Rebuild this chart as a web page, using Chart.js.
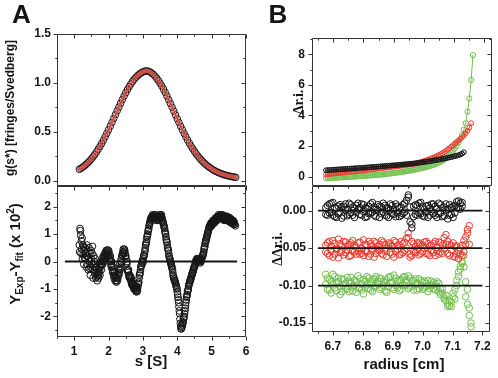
<!DOCTYPE html>
<html><head><meta charset="utf-8">
<script src="https://cdn.jsdelivr.net/npm/chart.js@4.4.1/dist/chart.umd.min.js"></script>
<style>
html,body{margin:0;padding:0;background:#fff;}
#wrap{position:relative;width:498px;height:378px;overflow:hidden;background:#fff;}
canvas{position:absolute;left:0;top:0;}
</style></head><body>
<div id="wrap">
<canvas id="cA1" width="498" height="378"></canvas>
<canvas id="cA2" width="498" height="378"></canvas>
<canvas id="cB1" width="498" height="378"></canvas>
<canvas id="cB2" width="498" height="378"></canvas>
</div>
<script>
// ---------------- DATA ----------------
// Panel A (top): g(s*) distribution, s in Svedberg
const sA = [1.15,1.20,1.25,1.30,1.35,1.40,1.45,1.50,1.55,1.60,1.65,1.70,1.75,1.80,1.85,1.90,1.95,2.00,2.05,2.10,2.15,2.20,2.25,2.30,2.35,2.40,2.45,2.50,2.55,2.60,2.65,2.70,2.75,2.80,2.85,2.90,2.95,3.00,3.05,3.10,3.15,3.20,3.25,3.30,3.35,3.40,3.45,3.50,3.55,3.60,3.65,3.70,3.75,3.80,3.85,3.90,3.95,4.00,4.05,4.10,4.15,4.20,4.25,4.30,4.35,4.40,4.45,4.50,4.55,4.60,4.65,4.70,4.75,4.80,4.85,4.90,4.95,5.00,5.05,5.10,5.15,5.20,5.25,5.30,5.35,5.40,5.45,5.50,5.55,5.60,5.65,5.70];
const gProfile = [0.120,0.130,0.142,0.155,0.170,0.187,0.205,0.225,0.247,0.270,0.296,0.323,0.352,0.383,0.415,0.449,0.485,0.521,0.559,0.597,0.636,0.675,0.714,0.752,0.790,0.827,0.863,0.898,0.930,0.960,0.988,1.013,1.036,1.056,1.073,1.088,1.100,1.110,1.116,1.120,1.117,1.110,1.099,1.085,1.067,1.046,1.022,0.995,0.966,0.934,0.900,0.864,0.827,0.789,0.750,0.711,0.672,0.633,0.595,0.557,0.520,0.484,0.450,0.417,0.386,0.356,0.328,0.302,0.277,0.254,0.233,0.213,0.195,0.178,0.163,0.149,0.136,0.124,0.113,0.103,0.094,0.086,0.079,0.072,0.066,0.061,0.056,0.052,0.048,0.044,0.041,0.038];

// Panel A (bottom): residuals [s, value x 10^2], scan 1 and scan 2
const residA = [[1.15,0.60],[1.16,0.35],[1.17,1.20],[1.18,1.12],[1.19,0.95],[1.20,0.30],[1.21,0.75],[1.22,0.45],[1.23,0.85],[1.24,0.10],[1.25,0.60],[1.26,0.25],[1.27,0.55],[1.28,-0.10],[1.29,0.40],[1.30,0.15],
[1.31,0.50],[1.33,0.30],[1.35,-0.20],[1.37,0.60],[1.39,0.20],[1.41,-0.30],[1.43,0.50],[1.45,0.00],[1.47,-0.50],[1.49,0.40],[1.51,-0.10],[1.53,0.55],[1.55,-0.60],[1.57,0.20],[1.59,-0.30],[1.61,0.10],[1.63,-0.60],[1.65,-0.20],[1.67,-0.70],[1.69,-0.40],[1.71,-0.60],[1.73,-0.20],[1.75,-0.50],[1.77,0.00],[1.79,-0.30],[1.81,0.10],[1.83,-0.10],[1.85,0.20],[1.87,0.00],[1.89,0.30],[1.91,0.10],[1.93,0.40],[1.95,0.30],[1.97,0.42],[1.99,0.20],[2.01,0.35],[2.03,0.10],[2.05,0.20],[2.07,-0.10],[2.09,0.00],[2.11,-0.30],[2.13,-0.20],[2.15,-0.50],[2.17,-0.40],[2.19,-0.70],[2.21,-0.60],[2.23,-0.75],[2.25,-0.50],[2.27,-0.60],[2.29,-0.30],[2.31,-0.40],[2.33,-0.10],[2.35,-0.20],[2.37,0.10],[2.39,0.20],[2.41,0.30],[2.43,0.45],[2.45,0.35],[2.47,0.40],[2.49,0.20],[2.51,0.10],[2.53,-0.10],[2.55,-0.30],[2.57,-0.40],[2.59,-0.50],[2.61,-0.60],[2.63,-0.55],[2.65,-0.70],[2.67,-0.80],[2.69,-0.75],[2.71,-0.90],[2.73,-0.95],[2.75,-0.85],[2.77,-1.00],[2.79,-1.05],[2.81,-1.00],[2.83,-1.10],[2.85,-0.95],[2.87,-0.80],[2.89,-0.60],[2.91,-0.45],[2.93,-0.30],[2.95,-0.15],[2.97,-0.05],[2.99,0.05],[3.01,0.10],[3.03,0.20],[3.05,0.35],[3.07,0.50],[3.09,0.65],[3.11,0.80],[3.13,0.95],[3.15,1.10],[3.17,1.20],[3.19,1.35],[3.21,1.45],[3.23,1.55],[3.25,1.60],[3.27,1.65],[3.29,1.60],[3.31,1.65],[3.33,1.70],[3.35,1.65],[3.37,1.60],[3.39,1.55],[3.41,1.60],[3.43,1.50],[3.45,1.55],[3.47,1.65],[3.49,1.70],[3.51,1.70],[3.53,1.65],[3.55,1.60],[3.57,1.50],[3.59,1.40],[3.61,1.30],[3.63,1.20],[3.65,1.05],[3.67,0.90],[3.69,0.75],[3.71,0.60],[3.73,0.45],[3.75,0.30],[3.77,0.15],[3.79,0.05],[3.81,-0.05],[3.83,-0.15],[3.85,-0.25],[3.87,-0.40],[3.89,-0.55],[3.91,-0.65],[3.93,-0.70],[3.95,-0.80],[3.97,-0.90],[3.99,-1.00],[4.01,-1.20],[4.03,-1.40],[4.05,-1.65],[4.07,-1.90],[4.08,-2.10],[4.09,-2.25],[4.10,-2.35],[4.11,-2.45],[4.13,-2.40],[4.15,-2.30],[4.17,-2.20],[4.19,-2.05],[4.21,-1.90],[4.23,-1.70],[4.25,-1.50],[4.27,-1.30],[4.29,-1.20],[4.31,-1.05],[4.33,-0.90],[4.35,-0.80],[4.37,-0.70],[4.39,-0.65],[4.41,-0.55],[4.43,-0.45],[4.45,-0.40],[4.47,-0.30],[4.49,-0.20],[4.51,-0.15],[4.53,-0.05],[4.55,0.05],[4.57,0.10],[4.59,0.05],[4.61,0.10],[4.63,0.00],[4.65,0.05],[4.67,-0.05],[4.69,0.00],[4.71,0.10],[4.73,0.20],[4.75,0.25],[4.77,0.35],[4.79,0.50],[4.81,0.65],[4.83,0.75],[4.85,0.85],[4.87,0.95],[4.89,1.05],[4.91,1.15],[4.93,1.25],[4.95,1.30],[4.97,1.35],[4.99,1.40],[5.01,1.35],[5.03,1.45],[5.05,1.40],[5.07,1.50],[5.09,1.45],[5.11,1.55],[5.13,1.50],[5.15,1.60],[5.17,1.55],[5.19,1.65],[5.21,1.60],[5.23,1.65],[5.25,1.70],[5.27,1.60],[5.29,1.65],[5.31,1.60],[5.33,1.65],[5.35,1.55],[5.37,1.60],[5.39,1.50],[5.41,1.60],[5.43,1.55],[5.45,1.60],[5.47,1.50],[5.49,1.55],[5.51,1.45],[5.53,1.55],[5.55,1.50],[5.57,1.40],[5.59,1.50],[5.61,1.45],[5.63,1.40],[5.65,1.45],[5.67,1.35],[5.69,1.30]];
const residA2 = [[1.32,0.10],[1.34,0.45],[1.36,0.20],[1.38,-0.10],[1.40,0.35],[1.42,0.10],[1.44,-0.25],[1.46,0.30],[1.48,-0.20],[1.50,0.10],[1.52,0.30],[1.54,-0.30],[1.56,-0.10],[1.58,0.00],[1.60,-0.45],[1.62,-0.20],[1.64,-0.40],[1.66,-0.55],[1.68,-0.50],[1.70,-0.30],[1.72,-0.45],[1.74,-0.35],[1.76,-0.20],[1.78,-0.15],[1.80,-0.10],[1.82,0.00],[1.84,0.05],[1.86,0.10],[1.88,0.15],[1.90,0.20],
[1.92,0.25],[1.94,0.35],[1.96,0.20],[1.98,0.30],[2.00,0.40],[2.02,0.25],[2.04,0.00],[2.06,0.05],[2.08,-0.20],[2.10,-0.15],[2.12,-0.40],[2.14,-0.35],[2.16,-0.60],[2.18,-0.55],[2.20,-0.50],[2.22,-0.70],[2.24,-0.60],[2.26,-0.70],[2.28,-0.45],[2.30,-0.50],[2.32,-0.25],[2.34,-0.30],[2.36,0.00],[2.38,-0.05],[2.40,0.25],[2.42,0.35],[2.44,0.30],[2.46,0.45],[2.48,0.30],[2.50,0.20],[2.52,-0.05],[2.54,0.00],[2.56,-0.35],[2.58,-0.30],[2.60,-0.55],[2.62,-0.50],[2.64,-0.65],[2.66,-0.60],[2.68,-0.85],[2.70,-0.80],[2.72,-0.85],[2.74,-1.00],[2.76,-0.90],[2.78,-0.95],[2.80,-1.10],[2.82,-0.90],[2.84,-1.05],[2.86,-0.85],[2.88,-0.75],[2.90,-0.50],[2.92,-0.40],[2.94,-0.20],[2.96,-0.15],[2.98,0.00],[3.00,-0.05],[3.02,0.20],[3.04,0.25],[3.06,0.40],[3.08,0.60],[3.10,0.70],[3.12,0.90],[3.14,1.00],[3.16,1.15],[3.18,1.30],[3.20,1.40],[3.22,1.50],[3.24,1.60],[3.26,1.55],[3.28,1.70],[3.30,1.55],[3.32,1.60],[3.34,1.60],[3.36,1.70],[3.38,1.50],[3.40,1.65],[3.42,1.55],[3.44,1.60],[3.46,1.60],[3.48,1.60],[3.50,1.65],[3.52,1.60],[3.54,1.70],[3.56,1.55],[3.58,1.45],[3.60,1.35],[3.62,1.25],[3.64,1.10],[3.66,1.00],[3.68,0.80],[3.70,0.70],[3.72,0.50],[3.74,0.40],[3.76,0.20],[3.78,0.10],[3.80,0.00],[3.82,-0.10],[3.84,-0.20],[3.86,-0.30],[3.88,-0.50],[3.90,-0.60],[3.92,-0.70],[3.94,-0.75],[3.96,-0.85],[3.98,-0.95],[4.00,-1.10],[4.02,-1.30],[4.04,-1.50],[4.06,-1.80],[4.12,-2.45],[4.14,-2.35],[4.16,-2.25],[4.18,-2.10],[4.20,-2.00],[4.22,-1.80],[4.24,-1.60],[4.26,-1.40],[4.28,-1.25],[4.30,-1.10],[4.32,-1.00],[4.34,-0.85],[4.36,-0.75],[4.38,-0.70],[4.40,-0.60],[4.42,-0.50],[4.44,-0.45],[4.46,-0.35],[4.48,-0.25],[4.50,-0.20],[4.52,-0.10],[4.54,0.00],[4.56,0.00],[4.58,0.10],[4.60,0.00],[4.62,0.05],[4.64,0.10],[4.66,0.00],[4.68,0.05],[4.70,0.05],[4.72,0.15],[4.74,0.20],[4.76,0.30],[4.78,0.45],[4.80,0.55],[4.82,0.70],[4.84,0.80],[4.86,0.90],[4.88,1.00],[4.90,1.10],[4.92,1.20],[4.94,1.30],[4.96,1.25],[4.98,1.40],[5.00,1.30],[5.02,1.40],[5.04,1.50],[5.06,1.45],[5.08,1.40],[5.10,1.50],[5.12,1.60],[5.14,1.55],[5.16,1.50],[5.18,1.60],[5.20,1.70],[5.22,1.65],[5.24,1.60],[5.26,1.65],[5.28,1.70],[5.30,1.55],[5.32,1.70],[5.34,1.60],[5.36,1.50],[5.38,1.65],[5.40,1.55],[5.42,1.50],[5.44,1.65],[5.46,1.55],[5.48,1.60],[5.50,1.50],[5.52,1.60],[5.54,1.45],[5.56,1.55],[5.58,1.45],[5.60,1.40],[5.62,1.50],[5.64,1.35],[5.66,1.40]];
const zeroLineA = [[0.73,0],[5.74,0]];

// Panel B: radial positions (cm)
const radius = [6.676,6.682,6.688,6.694,6.700,6.706,6.712,6.718,6.724,6.730,6.736,6.742,6.748,6.754,6.760,6.766,6.772,6.778,6.784,6.790,6.796,6.802,6.808,6.814,6.820,6.826,6.832,6.838,6.844,6.850,6.856,6.862,6.868,6.874,6.880,6.886,6.892,6.898,6.904,6.910,6.916,6.922,6.928,6.934,6.940,6.946,6.952,6.958,6.964,6.970,6.976,6.982,6.988,6.994,7.000,7.006,7.012,7.018,7.024,7.030,7.036,7.042,7.048,7.054,7.060,7.066,7.072,7.078,7.084,7.090,7.096,7.102,7.108,7.114,7.120,7.126,7.132,7.138,7.144,7.150,7.156,7.162];
// Panel B (top): delta r.i. profiles
const riBlack = [0.42,0.428,0.436,0.444,0.452,0.46,0.468,0.476,0.484,0.492,0.5,0.508,0.516,0.524,0.532,0.54,0.548,0.556,0.564,0.572,0.58,0.589,0.598,0.607,0.616,0.625,0.634,0.643,0.652,0.661,0.67,0.68,0.69,0.7,0.71,0.72,0.73,0.74,0.75,0.76,0.77,0.781,0.792,0.803,0.814,0.825,0.836,0.847,0.858,0.87,0.887,0.904,0.921,0.938,0.956,0.974,0.992,1.01,1.03,1.05,1.07,1.09,1.11,1.13,1.155,1.18,1.205,1.23,1.255,1.28,1.31,1.34,1.37,1.4,1.45,1.51,1.6];
const riRed = [0.15,0.163,0.176,0.189,0.202,0.215,0.228,0.241,0.254,0.267,0.28,0.293,0.306,0.319,0.332,0.345,0.358,0.371,0.384,0.397,0.41,0.423,0.436,0.449,0.462,0.475,0.489,0.503,0.517,0.531,0.545,0.559,0.573,0.587,0.601,0.615,0.63,0.645,0.66,0.675,0.69,0.706,0.722,0.738,0.755,0.772,0.79,0.808,0.826,0.85,0.88,0.91,0.945,0.98,1.02,1.06,1.1,1.145,1.19,1.24,1.29,1.34,1.4,1.46,1.53,1.6,1.68,1.77,1.86,1.96,2.06,2.16,2.26,2.36,2.47,2.58,2.7,2.84,3.0,3.2,3.5];
const riGreen = [-0.10,-0.095,-0.09,-0.084,-0.078,-0.072,-0.066,-0.06,-0.053,-0.046,-0.039,-0.032,-0.025,-0.017,-0.009,-0.001,0.007,0.015,0.023,0.032,0.041,0.05,0.059,0.068,0.077,0.086,0.095,0.104,0.113,0.122,0.132,0.145,0.158,0.172,0.186,0.2,0.215,0.23,0.246,0.262,0.279,0.296,0.314,0.332,0.351,0.37,0.39,0.41,0.43,0.455,0.48,0.506,0.533,0.561,0.59,0.62,0.652,0.686,0.722,0.76,0.80,0.85,0.9,0.96,1.03,1.11,1.2,1.3,1.41,1.53,1.67,1.83,2.01,2.22,2.46,2.74,3.08,3.5,4.25,5.12,6.32,7.95];
// Panel B (bottom): residuals (offset by 0, -0.05, -0.10), two scans each
const resBlack = [0.004,-0.006,0.009,-0.002,0.011,-0.008,0.003,-0.004,0.008,-0.01,0.006,0.001,-0.007,0.01,-0.003,0.005,-0.009,0.007,0.002,-0.005,0.009,-0.001,0.004,-0.008,0.006,-0.003,0.011,-0.006,0.002,0.008,-0.009,0.005,-0.002,0.007,-0.007,0.003,0.009,-0.004,0.001,-0.008,0.006,0.004,-0.006,0.008,-0.002,0.014,0.021,-0.015,-0.023,-0.008,-0.005,0.007,-0.003,0.011,-0.007,0.002,0.006,-0.009,0.004,-0.001,0.009,-0.006,0.003,-0.004,0.008,-0.008,0.005,0.001,-0.011,-0.006,0.004,-0.009,0.007,0.012,0.004,0.01,0.006];
const resBlack2 = [-0.005,0.007,-0.003,0.01,-0.006,0.004,-0.009,0.006,-0.002,0.005,-0.007,0.009,0.002,-0.005,0.008,-0.006,0.003,-0.002,0.01,0.004,-0.006,0.008,-0.009,0.003,-0.004,0.009,-0.002,0.005,-0.008,0.001,0.006,-0.004,0.01,-0.006,0.004,-0.009,0.001,0.007,-0.005,0.009,-0.003,-0.008,0.005,-0.004,0.01,-0.006,0.018,0.005,-0.018,0.006,0.008,-0.006,0.01,-0.004,0.006,-0.008,-0.002,0.007,-0.006,0.009,-0.004,0.006,-0.009,0.01,-0.003,0.004,-0.007,0.009,0.002,0.008,-0.005,0.006,-0.003,0.004,0.013,0.002,0.011];
const resRed = [-0.046,-0.057,-0.041,-0.053,-0.062,-0.044,-0.05,-0.038,-0.056,-0.047,-0.059,-0.042,-0.052,-0.045,-0.06,-0.04,-0.055,-0.049,-0.043,-0.058,-0.051,-0.039,-0.054,-0.046,-0.061,-0.044,-0.052,-0.041,-0.057,-0.048,-0.053,-0.04,-0.059,-0.045,-0.05,-0.043,-0.056,-0.047,-0.062,-0.042,-0.051,-0.046,-0.058,-0.044,-0.053,-0.037,-0.03,-0.062,-0.041,-0.055,-0.048,-0.052,-0.043,-0.057,-0.046,-0.05,-0.041,-0.058,-0.047,-0.053,-0.044,-0.06,-0.049,-0.042,-0.055,-0.046,-0.051,-0.032,-0.057,-0.045,-0.052,-0.061,-0.048,-0.058,-0.064,-0.05,-0.06,-0.055,-0.045,-0.03,-0.02];
const resRed2 = [-0.055,-0.043,-0.06,-0.047,-0.04,-0.058,-0.052,-0.063,-0.044,-0.054,-0.041,-0.056,-0.047,-0.061,-0.043,-0.053,-0.046,-0.058,-0.054,-0.042,-0.057,-0.06,-0.045,-0.055,-0.041,-0.058,-0.047,-0.062,-0.043,-0.052,-0.045,-0.057,-0.042,-0.054,-0.061,-0.047,-0.044,-0.058,-0.04,-0.055,-0.047,-0.059,-0.041,-0.056,-0.042,-0.05,-0.036,-0.058,-0.06,-0.044,-0.056,-0.043,-0.059,-0.045,-0.055,-0.042,-0.057,-0.044,-0.06,-0.046,-0.056,-0.041,-0.054,-0.058,-0.043,-0.057,-0.036,-0.045,-0.041,-0.06,-0.046,-0.043,-0.062,-0.047,-0.053,-0.058,-0.046,-0.04,-0.035,-0.025,-0.045];
const resGreen = [-0.085,-0.105,-0.092,-0.11,-0.098,-0.088,-0.107,-0.095,-0.112,-0.091,-0.1,-0.104,-0.089,-0.108,-0.096,-0.101,-0.093,-0.109,-0.087,-0.103,-0.097,-0.111,-0.094,-0.099,-0.09,-0.106,-0.092,-0.102,-0.088,-0.098,-0.105,-0.091,-0.1,-0.095,-0.109,-0.089,-0.097,-0.103,-0.086,-0.1,-0.094,-0.107,-0.092,-0.099,-0.088,-0.096,-0.104,-0.09,-0.101,-0.093,-0.098,-0.106,-0.091,-0.1,-0.095,-0.103,-0.097,-0.108,-0.099,-0.094,-0.104,-0.098,-0.102,-0.097,-0.105,-0.11,-0.115,-0.12,-0.124,-0.127,-0.122,-0.115,-0.105,-0.093,-0.082,-0.074,-0.07,-0.06,-0.095,-0.125,-0.14,-0.155];
const resGreen2 = [-0.098,-0.09,-0.106,-0.094,-0.085,-0.103,-0.096,-0.09,-0.101,-0.108,-0.092,-0.097,-0.105,-0.094,-0.089,-0.107,-0.1,-0.095,-0.104,-0.091,-0.106,-0.092,-0.102,-0.088,-0.104,-0.095,-0.108,-0.091,-0.1,-0.094,-0.09,-0.103,-0.094,-0.107,-0.092,-0.101,-0.088,-0.096,-0.105,-0.09,-0.103,-0.093,-0.105,-0.089,-0.1,-0.092,-0.087,-0.102,-0.094,-0.106,-0.091,-0.097,-0.104,-0.093,-0.105,-0.094,-0.101,-0.093,-0.104,-0.1,-0.096,-0.106,-0.095,-0.108,-0.112,-0.104,-0.118,-0.113,-0.128,-0.12,-0.128,-0.11,-0.118,-0.1,-0.088,-0.078,-0.068,-0.075,-0.115,-0.105,-0.13,-0.15];
const refLevelsB = [0, -0.05, -0.10];
const refLineXB = [6.65, 7.2];

// Tick labels
const xTicksA = [1,2,3,4,5,6];
const yTicksA1 = [0.0,0.5,1.0,1.5];
const yTicksA2 = [-2,-1,0,1,2];
const xTicksB = [6.7,6.8,6.9,7.0,7.1,7.2];
const yTicksB1 = [0,2,4,6,8];
const yTicksB2 = [-0.15,-0.10,-0.05,0.00];

// ---------------- RENDER ----------------
const W = 498, H = 378;
const SANS = '"Liberation Sans", Arial, sans-serif';
const SERIF = '"Liberation Serif", "Times New Roman", serif';
const INK = '#151515';
const RED = '#e8392d', GREEN = '#6fbf4c';

function drawRich(ctx, parts, cx, cy, rot) {
  ctx.save();
  ctx.translate(cx, cy);
  if (rot) ctx.rotate(rot);
  let w = 0;
  parts.forEach(p => { ctx.font = p.f; p.w = ctx.measureText(p.t).width; w += p.w; });
  let x = -w / 2;
  ctx.textBaseline = 'middle';
  ctx.fillStyle = INK;
  parts.forEach(p => { ctx.font = p.f; ctx.fillText(p.t, x, p.dy || 0); x += p.w; });
  ctx.restore();
}

function tickList(scale, majors, minorStep) {
  const out = majors.map(v => [scale.getPixelForValue(v), 4]);
  if (minorStep) {
    const start = Math.ceil(scale.min / minorStep - 1e-6);
    const end = Math.floor(scale.max / minorStep + 1e-6);
    for (let k = start; k <= end; k++) {
      const v = k * minorStep;
      if (!majors.some(m => Math.abs(m - v) < minorStep / 10)) out.push([scale.getPixelForValue(v), 2.2]);
    }
  }
  return out;
}

const framePlugin = {
  id: 'frame',
  afterDraw(chart, args, o) {
    const ctx = chart.ctx, a = chart.chartArea, xs = chart.scales.x, ys = chart.scales.y;
    const L = Math.round(a.left) + 0.5, R = Math.round(a.right) - 0.5, T = Math.round(a.top) + 0.5, B = Math.round(a.bottom) - 0.5;
    ctx.save();
    ctx.strokeStyle = '#333';
    ctx.lineWidth = 1;
    ctx.beginPath();
    ctx.rect(L, T, R - L, B - T);
    tickList(xs, o.xMajor, o.xMinor).forEach(([p, len]) => {
      const px = Math.round(p) + 0.5;
      ctx.moveTo(px, B); ctx.lineTo(px, B + len);
      ctx.moveTo(px, T); ctx.lineTo(px, T + len);
    });
    tickList(ys, o.yMajor, o.yMinor).forEach(([p, len]) => {
      const py = Math.round(p) + 0.5;
      ctx.moveTo(L - len, py); ctx.lineTo(L, py);
      ctx.moveTo(R - len, py); ctx.lineTo(R, py);
    });
    ctx.stroke();
    (o.titles || []).forEach(t => drawRich(ctx, t.parts, t.x, t.y, t.rot));
    ctx.restore();
  }
};

function pts(xArr, yArr) { return yArr.map((v, i) => ({x: xArr[i], y: v})); }
function pairs(arr) { return arr.map(p => ({x: p[0], y: p[1]})); }

function circles(data, color, r, order) {
  return {data, showLine: false, pointRadius: r, pointBorderWidth: 1, pointBorderColor: color,
          pointBackgroundColor: 'rgba(0,0,0,0)', order};
}

function makePanel(id, area, xCfg, yCfg, datasets, deco) {
  const xH = xCfg.labels ? 30 : 0, yW = 50;
  return new Chart(document.getElementById(id), {
    type: 'scatter',
    data: {datasets},
    plugins: [framePlugin],
    options: {
      responsive: false, animation: false, devicePixelRatio: 1, events: [],
      layout: {padding: {left: area.l - yW, right: W - area.r, top: area.t, bottom: H - area.b - xH}},
      plugins: {legend: {display: false}, tooltip: {enabled: false}, frame: deco},
      scales: {
        x: {
          type: 'linear', min: xCfg.min, max: xCfg.max, display: !!xCfg.labels,
          afterFit: s => { s.height = xH; },
          afterBuildTicks: s => { s.ticks = xCfg.ticks.map(v => ({value: v})); },
          grid: {display: false, drawTicks: false}, border: {display: false},
          ticks: {autoSkip: false, maxRotation: 0, padding: 7, color: INK,
                  font: {family: SANS, size: 12, weight: 'bold'},
                  callback: v => v.toFixed(xCfg.dec)}
        },
        y: {
          type: 'linear', min: yCfg.min, max: yCfg.max,
          afterFit: s => { s.width = yW; },
          afterBuildTicks: s => { s.ticks = yCfg.ticks.map(v => ({value: v})); },
          grid: {display: false, drawTicks: false}, border: {display: false},
          ticks: {autoSkip: false, padding: yCfg.pad || 6, color: INK,
                  font: {family: SANS, size: 12, weight: 'bold'},
                  callback: v => v.toFixed(yCfg.dec)}
        }
      }
    }
  });
}

const B12 = 'bold 12px ' + SANS;
const B15 = 'bold 15px ' + SANS;
const B10 = 'bold 10px ' + SANS;
const LET = 'bold 26px ' + SANS;

// Panel A top
makePanel('cA1', {l: 57, r: 246, t: 33.5, b: 186},
  {min: 0.5, max: 6, ticks: xTicksA, dec: 0, labels: false},
  {min: -0.05, max: 1.5, ticks: yTicksA1, dec: 1},
  [
    {data: pts(sA, gProfile), showLine: true, borderColor: '#d4403a', borderWidth: 1.4,
     pointRadius: 1.8, pointBorderWidth: 0.8, pointBorderColor: '#e0524a', pointBackgroundColor: 'rgba(0,0,0,0)', order: 0},
    circles(pts(sA, gProfile), INK, 3.3, 1)
  ],
  {xMajor: xTicksA, xMinor: 0.5, yMajor: yTicksA1, yMinor: 0.25, titles: [
    {parts: [{t: 'A', f: LET}], x: 21.5, y: 16},
    {parts: [{t: 'g(s*) [fringes/Svedberg]', f: B12}], x: 11, y: 108, rot: -Math.PI / 2}
  ]});

// Panel A bottom
makePanel('cA2', {l: 57, r: 246, t: 186, b: 337},
  {min: 0.5, max: 6, ticks: xTicksA, dec: 0, labels: true},
  {min: -2.75, max: 2.75, ticks: yTicksA2, dec: 0},
  [
    {data: pairs(zeroLineA), showLine: true, borderColor: INK, borderWidth: 1.8, pointRadius: 0, order: 0},
    circles(pairs(residA), INK, 3.4, 1),
    circles(pairs(residA2), INK, 3.4, 2)
  ],
  {xMajor: xTicksA, xMinor: 0.5, yMajor: yTicksA2, yMinor: 0.5, titles: [
    {parts: [{t: 'Y', f: B15}, {t: 'Exp', f: B10, dy: 4}, {t: '-Y', f: B15}, {t: 'fit', f: B10, dy: 4},
             {t: ' (x 10', f: B15}, {t: '2', f: B10, dy: -5}, {t: ')', f: B15}], x: 16, y: 254, rot: -Math.PI / 2},
    {parts: [{t: 's [S]', f: B15}], x: 151, y: 362}
  ]});

// Panel B top
makePanel('cB1', {l: 312, r: 492, t: 37.5, b: 186},
  {min: 6.63, max: 7.225, ticks: xTicksB, dec: 1, labels: false},
  {min: -0.61, max: 9.1, ticks: yTicksB1, dec: 0, pad: 7},
  [
    {data: pts(radius, riBlack), showLine: true, borderColor: INK, borderWidth: 1, pointRadius: 2.4,
     pointBorderWidth: 1, pointBorderColor: INK, pointBackgroundColor: 'rgba(0,0,0,0)', order: 0},
    {data: pts(radius, riRed), showLine: true, borderColor: RED, borderWidth: 1, pointRadius: 2.4,
     pointBorderWidth: 1, pointBorderColor: RED, pointBackgroundColor: 'rgba(0,0,0,0)', order: 1},
    {data: pts(radius, riGreen), showLine: true, borderColor: GREEN, borderWidth: 1, pointRadius: 2.6,
     pointBorderWidth: 1, pointBorderColor: GREEN, pointBackgroundColor: 'rgba(0,0,0,0)', order: 2}
  ],
  {xMajor: xTicksB, xMinor: 0.05, yMajor: yTicksB1, yMinor: 1, titles: [
    {parts: [{t: 'B', f: LET}], x: 278, y: 16},
    {parts: [{t: '\u0394r.i.', f: 'bold 14px ' + SERIF}], x: 299, y: 102, rot: -Math.PI / 2}
  ]});

// Panel B bottom
makePanel('cB2', {l: 312, r: 492, t: 186, b: 332},
  {min: 6.63, max: 7.225, ticks: xTicksB, dec: 1, labels: true},
  {min: -0.162, max: 0.033, ticks: yTicksB2, dec: 2, pad: 6},
  [
    ...refLevelsB.map(lv => ({data: refLineXB.map(x => ({x, y: lv})), showLine: true, borderColor: INK,
      borderWidth: 1.8, pointRadius: 0, order: 0})),
    circles(pts(radius, resBlack), INK, 3.3, 1),
    circles(pts(radius, resBlack2), INK, 3.3, 2),
    circles(pts(radius, resRed), RED, 3.3, 3),
    circles(pts(radius, resRed2), RED, 3.3, 4),
    circles(pts(radius, resGreen), GREEN, 3.3, 5),
    circles(pts(radius, resGreen2), GREEN, 3.3, 6)
  ],
  {xMajor: xTicksB, xMinor: 0.05, yMajor: yTicksB2, yMinor: 0.025, titles: [
    {parts: [{t: '\u0394\u0394r.i.', f: 'bold 14px ' + SERIF}], x: 278, y: 249, rot: -Math.PI / 2},
    {parts: [{t: 'radius [cm]', f: B15}], x: 404, y: 365}
  ]});
</script>
</body></html>
